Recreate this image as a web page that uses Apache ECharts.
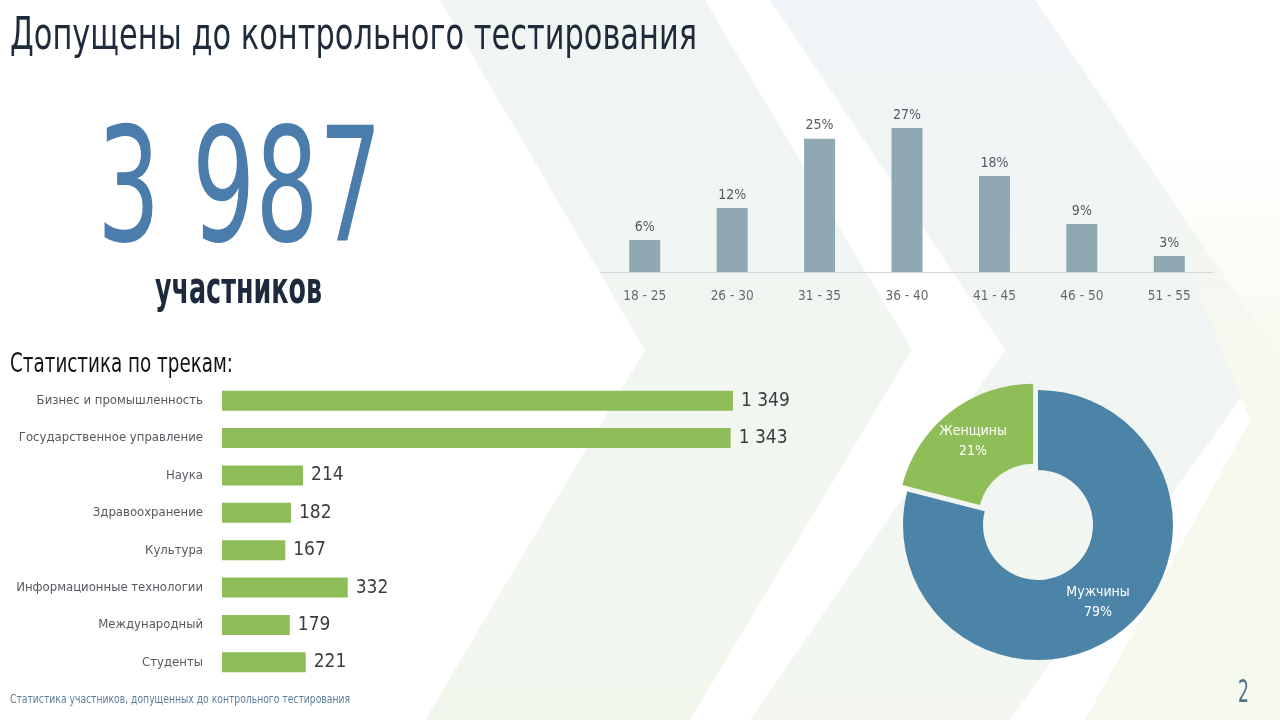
<!DOCTYPE html>
<html>
<head>
<meta charset="utf-8">
<script src="https://cdn.jsdelivr.net/npm/echarts@6/dist/echarts.min.js"></script>
<style>
html,body{margin:0;padding:0;background:#fff;}
#chart{width:1280px;height:720px;}
</style>
</head>
<body>
<div id="chart"></div>
<script>
// ---- data ----
const titleText = 'Допущены до контрольного тестирования';
const totalText = '3 987';
const totalCaption = 'участников';
const tracksTitle = 'Статистика по трекам:';
const footerText = 'Статистика участников, допущенных до контрольного тестирования';
const pageNumber = '2';

const ageCategories = ['18 - 25', '26 - 30', '31 - 35', '36 - 40', '41 - 45', '46 - 50', '51 - 55'];
const ageValues = [6, 12, 25, 27, 18, 9, 3];

const trackCategories = ['Бизнес и промышленность', 'Государственное управление', 'Наука', 'Здравоохранение', 'Культура', 'Информационные технологии', 'Международный', 'Студенты'];
const trackValues = [1349, 1343, 214, 182, 167, 332, 179, 221];

const genderNames = ['Мужчины', 'Женщины'];
const genderValues = [79, 21];

// ---- helpers ----
const FONT = "'Liberation Sans Narrow', 'DejaVu Sans Condensed', 'Roboto', sans-serif";
const ctx = document.createElement('canvas').getContext('2d');
function fit(text, font, target) {
  ctx.font = font;
  return target / ctx.measureText(text).width;
}
function fmt(v) { return String(v).replace(/\B(?=(\d{3})+(?!\d))/g, ' '); }

// capCenter: desired vertical centre of capitals
function txt(text, x, capCenter, size, weight, color, targetW) {
  const font = weight + ' ' + size + 'px ' + FONT;
  return {
    type: 'text', x: x, y: capCenter + 0.093 * size, z: 10,
    scaleX: targetW ? fit(text, font, targetW) : 1,
    style: { text: text, font: font, fill: color, align: 'left', verticalAlign: 'middle' }
  };
}

const chart = echarts.init(document.getElementById('chart'), null, { renderer: 'canvas' });

const LG = echarts.graphic.LinearGradient;

const option = {
  backgroundColor: '#ffffff',
  animation: false,
  graphic: [
    { type: 'polygon', z: -5, silent: true,
      shape: { points: [[440,0],[705,0],[912,350],[690,720],[425,720],[645,350]] },
      style: { fill: new LG(0,0,0,1,[{offset:0,color:'#f1f5f3'},{offset:0.5,color:'#f2f6f1'},{offset:1,color:'#f2f7ee'}]) } },
    { type: 'polygon', z: -5, silent: true,
      shape: { points: [[770,0],[1035,0],[1275,350],[1010,720],[750,720],[1005,350]] },
      style: { fill: new LG(0,0,0,1,[{offset:0,color:'#f0f4f6'},{offset:0.5,color:'#f1f5f3'},{offset:1,color:'#f3f7f0'}]) } },
    { type: 'polygon', z: -5, silent: true,
      shape: { points: [[1140,150],[1290,150],[1290,720],[1085,720],[1250,420]] },
      style: { fill: new LG(0,0,0,1,[{offset:0,color:'rgba(246,249,236,0)'},{offset:0.4,color:'#f7f9ef'},{offset:1,color:'#f6f9ee'}]) } },

    txt(titleText, 10, 33, 45, 'normal', '#1f2b3b', 687),
    txt(totalText, 97, 185, 159, 'normal', '#4a7dab', 285),
    txt(totalCaption, 155, 287, 44, 'bold', '#1e2a3c', 167),
    txt(tracksTitle, 10, 362, 27, 'normal', '#141414', 223),
    txt(footerText, 10, 699, 12, 'normal', '#5e7d9a', 340),
    txt(pageNumber, 1238, 691, 32, 'normal', '#557084', 11)
  ],
  grid: [
    { left: 601, right: 67, top: 112, bottom: 448, containLabel: false, outerBoundsMode: 'none' },
    { left: 222, right: 452, top: 382, bottom: 39, containLabel: false, outerBoundsMode: 'none' }
  ],
  xAxis: [
    { type: 'category', gridIndex: 0, data: ageCategories,
      axisLine: { lineStyle: { color: '#d3d8db', width: 1 } },
      axisTick: { show: false },
      axisLabel: { color: '#666b70', fontSize: 13.5, fontFamily: FONT, margin: 17 } },
    { type: 'value', gridIndex: 1, min: 0, max: 1600, show: false }
  ],
  yAxis: [
    { type: 'value', gridIndex: 0, min: 0, max: 30, show: false },
    { type: 'category', gridIndex: 1, data: trackCategories, inverse: true,
      axisLine: { show: false }, axisTick: { show: false },
      axisLabel: { color: '#555a60', fontSize: 13, fontFamily: FONT, margin: 19 } }
  ],
  series: [
    { type: 'bar', xAxisIndex: 0, yAxisIndex: 0, data: ageValues, barWidth: 31,
      itemStyle: { color: '#8fa8b2' },
      label: { show: true, position: 'top', distance: 6, formatter: '{c}%',
        color: '#555a5f', fontSize: 14, fontFamily: FONT } },
    { type: 'bar', xAxisIndex: 1, yAxisIndex: 1, data: trackValues, barWidth: 20,
      itemStyle: { color: '#8dbc59' },
      label: { show: true, position: 'right', distance: 8,
        formatter: p => fmt(p.value),
        color: '#3a3d40', fontSize: 19, fontFamily: FONT } },
    { type: 'pie', center: [1038, 525], radius: [55, 135], startAngle: 90, clockwise: true,
      selectedMode: 'single', selectedOffset: 8,
      label: { show: true, position: 'inside', formatter: '{b}\n{d}%', color: '#ffffff',
        fontSize: 14, lineHeight: 20, fontFamily: FONT },
      labelLine: { show: false },
      data: [
        { name: genderNames[0], value: genderValues[0], itemStyle: { color: '#4c84a7' } },
        { name: genderNames[1], value: genderValues[1], selected: true, itemStyle: { color: '#8fbd58' } }
      ] }
  ]
};
chart.setOption(option);
</script>
</body>
</html>
